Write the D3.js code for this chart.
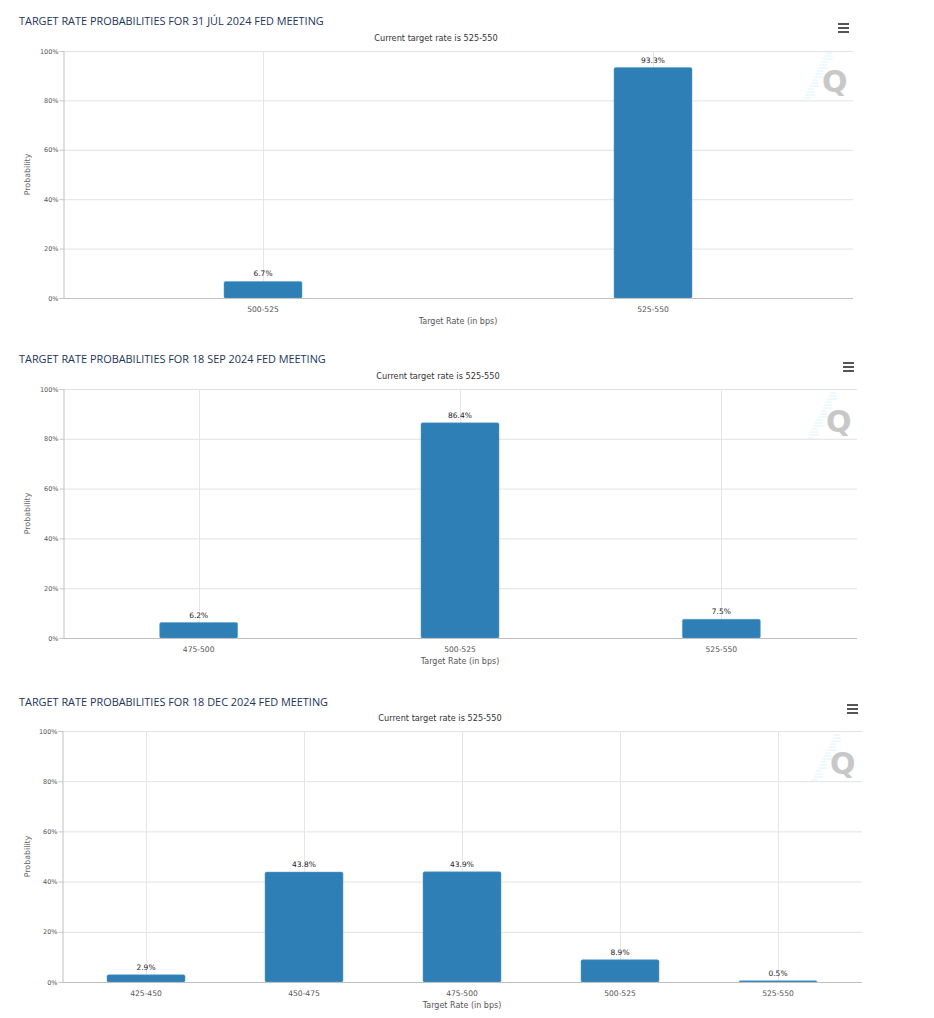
<!DOCTYPE html>
<html>
<head>
<meta charset="utf-8">
<script src="https://cdn.jsdelivr.net/npm/d3@7"></script>
<style>
  html, body { margin: 0; padding: 0; background: #fff; }
  svg { display: block; }
</style>
</head>
<body>
<svg id="chart" width="934" height="1018"></svg>
<script>
// ---- Data ----
const chartTitles = [
  "TARGET RATE PROBABILITIES FOR 31 JÚL 2024 FED MEETING",
  "TARGET RATE PROBABILITIES FOR 18 SEP 2024 FED MEETING",
  "TARGET RATE PROBABILITIES FOR 18 DEC 2024 FED MEETING"
];
const subtitleText = "Current target rate is 525-550";
const xAxisTitle = "Target Rate (in bps)";
const yAxisTitle = "Probability";

const julCategories = ["500-525", "525-550"];
const julValues = [6.7, 93.3];

const sepCategories = ["475-500", "500-525", "525-550"];
const sepValues = [6.2, 86.4, 7.5];

const decCategories = ["425-450", "450-475", "475-500", "500-525", "525-550"];
const decValues = [2.9, 43.8, 43.9, 8.9, 0.5];

const yTicks = [0, 20, 40, 60, 80, 100];

// ---- Layout (positions per panel) ----
const panels = [
  { cats: julCategories, vals: julValues, title: chartTitles[0],
    titleY: 25, subX: 436, subY: 41, top: 51, bottom: 298, left: 63, right: 853,
    menu: [838, 23], logo: [822, 93] },
  { cats: sepCategories, vals: sepValues, title: chartTitles[1],
    titleY: 363, subX: 438, subY: 379, top: 389, bottom: 638, left: 63, right: 857,
    menu: [843, 362], logo: [826, 433] },
  { cats: decCategories, vals: decValues, title: chartTitles[2],
    titleY: 706, subX: 440, subY: 721, top: 731, bottom: 982, left: 62, right: 862,
    menu: [847, 704], logo: [830, 775] }
];

const barColor = "#2f7fb7";
const DV = "'DejaVu Sans', sans-serif";
const OS = "'Open Sans', sans-serif";
const svg = d3.select("#chart");

panels.forEach(p => {
  const g = svg.append("g");

  // Title
  g.append("text")
    .attr("x", 19).attr("y", p.titleY)
    .style("font-family", OS)
    .style("font-size", "10.9px")
    .attr("fill", "#23345a")
    .text(p.title);

  // Subtitle
  g.append("text")
    .attr("x", p.subX).attr("y", p.subY)
    .attr("text-anchor", "middle")
    .style("font-family", DV).style("font-size", "8.2px")
    .attr("fill", "#333")
    .text(subtitleText);

  // Scales
  const y = d3.scaleLinear().domain([0, 100]).range([p.bottom, p.top]);
  const x = d3.scaleBand().domain(p.cats).range([p.left + 5, p.right - 5]);
  const barW = 78;

  // Horizontal grid
  g.append("g")
    .selectAll("line")
    .data(yTicks)
    .join("line")
    .attr("x1", p.left).attr("x2", p.right)
    .attr("y1", d => y(d) + 0.5).attr("y2", d => y(d) + 0.5)
    .attr("stroke", "#e2e2e2").attr("stroke-width", 1);

  // Vertical grid at category centers
  g.append("g")
    .selectAll("line")
    .data(p.cats)
    .join("line")
    .attr("x1", d => Math.round(x(d) + x.bandwidth() / 2) + 0.5)
    .attr("x2", d => Math.round(x(d) + x.bandwidth() / 2) + 0.5)
    .attr("y1", p.top).attr("y2", p.bottom)
    .attr("stroke", "#e6e6e6").attr("stroke-width", 1);

  // Y axis
  const yAxis = d3.axisLeft(y).tickValues(yTicks).tickSize(4).tickFormat(d => d + "%");
  const ya = g.append("g").attr("transform", `translate(${p.left + 0.5},0)`).call(yAxis);
  ya.select(".domain").attr("stroke", "#c0c0c0");
  ya.selectAll(".tick line").attr("stroke", "#c8c8c8");
  ya.selectAll(".tick text").style("font-size", "6.5px").attr("fill", "#555")
    .style("font-family", DV).attr("x", -5);

  // Bars
  g.append("g")
    .selectAll("rect")
    .data(p.cats.map((c, i) => ({ c, v: p.vals[i] })))
    .join("rect")
    .attr("x", d => x(d.c) + x.bandwidth() / 2 - barW / 2)
    .attr("y", d => y(d.v))
    .attr("width", barW)
    .attr("height", d => Math.max(1, y(0) - y(d.v)))
    .attr("rx", 1.5)
    .attr("fill", barColor)
    .attr("stroke", "#5c9ccb").attr("stroke-width", 0.5);

  // Value labels
  g.append("g")
    .selectAll("text")
    .data(p.cats.map((c, i) => ({ c, v: p.vals[i] })))
    .join("text")
    .attr("x", d => x(d.c) + x.bandwidth() / 2)
    .attr("y", d => y(d.v) - 5)
    .attr("text-anchor", "middle")
    .style("font-family", DV).style("font-size", "7.5px")
    .attr("fill", "#222")
    .text(d => d.v.toFixed(1) + "%");

  // X axis
  const xAxis = d3.axisBottom(x).tickSize(0).tickPadding(8);
  const xa = g.append("g").attr("transform", `translate(0,${p.bottom + 0.5})`).call(xAxis);
  xa.select(".domain").remove();
  xa.selectAll(".tick text").style("font-size", "7.6px").attr("fill", "#555")
    .style("font-family", DV);
  g.append("line")
    .attr("x1", p.left).attr("x2", p.right)
    .attr("y1", p.bottom + 0.5).attr("y2", p.bottom + 0.5)
    .attr("stroke", "#c0c0c0");

  // X axis title
  g.append("text")
    .attr("x", (p.left + p.right) / 2).attr("y", p.bottom + 26)
    .attr("text-anchor", "middle")
    .style("font-family", DV).style("font-size", "8px")
    .attr("fill", "#555")
    .text(xAxisTitle);

  // Y axis title
  g.append("text")
    .attr("transform", `translate(30,${(p.top + p.bottom) / 2}) rotate(-90)`)
    .attr("text-anchor", "middle")
    .style("font-family", DV).style("font-size", "7.9px")
    .attr("fill", "#666")
    .text(yAxisTitle);

  // Menu (hamburger)
  [0, 4, 8].forEach(dy => {
    g.append("rect")
      .attr("x", p.menu[0]).attr("y", p.menu[1] + dy)
      .attr("width", 11).attr("height", 2)
      .attr("fill", "#555");
  });

  // Logo: faint stripes + Q
  const lg = g.append("g").attr("transform", `translate(${p.logo[0]},${p.logo[1]})`);
  d3.range(0, 16).forEach(i => {
    const yy = -40 + i * 3;
    const xx = 4 - i * 1.5;
    lg.append("line")
      .attr("x1", xx).attr("x2", xx + 6 + (i % 3) * 2)
      .attr("y1", yy).attr("y2", yy)
      .attr("stroke", "#d4f1fa").attr("stroke-width", 0.8);
  });
  lg.append("text")
    .attr("x", 0).attr("y", -1)
    .style("font-family", DV).style("font-size", "30px").style("font-weight", "bold")
    .attr("fill", "#c8c8c8")
    .text("Q");
});
</script>
</body>
</html>
